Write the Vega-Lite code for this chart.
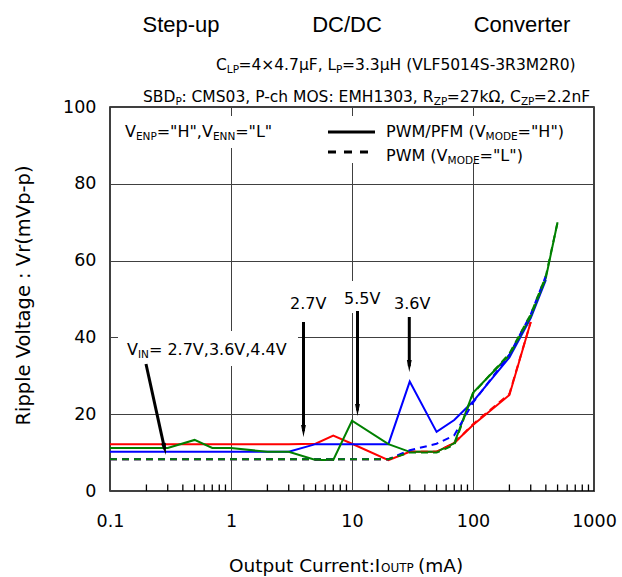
{
"$schema": "https://vega.github.io/schema/vega-lite/v6.json",
"width": 484, "height": 384,
"autosize": {"type": "none"},
"padding": {"left": 110, "top": 107, "right": 28, "bottom": 86},
"background": "white",
"config": {"view": {"stroke": "black", "strokeWidth": 1.5}, "font": "DejaVu Sans"},
"datasets": {
"lines": [
{"x":0.1,"y":12.2,"vin":"2.7V","mode":"PWM/PFM"},{"x":0.2,"y":12.2,"vin":"2.7V","mode":"PWM/PFM"},{"x":0.3,"y":12.2,"vin":"2.7V","mode":"PWM/PFM"},{"x":0.5,"y":12.2,"vin":"2.7V","mode":"PWM/PFM"},{"x":0.7,"y":12.2,"vin":"2.7V","mode":"PWM/PFM"},{"x":1,"y":12.2,"vin":"2.7V","mode":"PWM/PFM"},{"x":2,"y":12.2,"vin":"2.7V","mode":"PWM/PFM"},{"x":3,"y":12.2,"vin":"2.7V","mode":"PWM/PFM"},{"x":5,"y":12.3,"vin":"2.7V","mode":"PWM/PFM"},{"x":7,"y":14.4,"vin":"2.7V","mode":"PWM/PFM"},{"x":10,"y":12.3,"vin":"2.7V","mode":"PWM/PFM"},{"x":20,"y":8.0,"vin":"2.7V","mode":"PWM/PFM"},{"x":30,"y":10.2,"vin":"2.7V","mode":"PWM/PFM"},{"x":50,"y":10.2,"vin":"2.7V","mode":"PWM/PFM"},{"x":70,"y":12.5,"vin":"2.7V","mode":"PWM/PFM"},{"x":100,"y":17.2,"vin":"2.7V","mode":"PWM/PFM"},{"x":200,"y":25.0,"vin":"2.7V","mode":"PWM/PFM"},{"x":300,"y":44.0,"vin":"2.7V","mode":"PWM/PFM"},
{"x":0.1,"y":10.2,"vin":"3.6V","mode":"PWM/PFM"},{"x":0.2,"y":10.2,"vin":"3.6V","mode":"PWM/PFM"},{"x":0.3,"y":10.2,"vin":"3.6V","mode":"PWM/PFM"},{"x":0.5,"y":10.2,"vin":"3.6V","mode":"PWM/PFM"},{"x":0.7,"y":10.2,"vin":"3.6V","mode":"PWM/PFM"},{"x":1,"y":10.2,"vin":"3.6V","mode":"PWM/PFM"},{"x":2,"y":10.2,"vin":"3.6V","mode":"PWM/PFM"},{"x":3,"y":10.2,"vin":"3.6V","mode":"PWM/PFM"},{"x":5,"y":12.2,"vin":"3.6V","mode":"PWM/PFM"},{"x":7,"y":12.2,"vin":"3.6V","mode":"PWM/PFM"},{"x":10,"y":12.2,"vin":"3.6V","mode":"PWM/PFM"},{"x":20,"y":12.2,"vin":"3.6V","mode":"PWM/PFM"},{"x":30,"y":28.5,"vin":"3.6V","mode":"PWM/PFM"},{"x":50,"y":15.4,"vin":"3.6V","mode":"PWM/PFM"},{"x":70,"y":18.5,"vin":"3.6V","mode":"PWM/PFM"},{"x":100,"y":23.3,"vin":"3.6V","mode":"PWM/PFM"},{"x":200,"y":34.8,"vin":"3.6V","mode":"PWM/PFM"},{"x":300,"y":45.0,"vin":"3.6V","mode":"PWM/PFM"},{"x":400,"y":55.0,"vin":"3.6V","mode":"PWM/PFM"},
{"x":0.1,"y":11.2,"vin":"5.5V","mode":"PWM/PFM"},{"x":0.2,"y":11.2,"vin":"5.5V","mode":"PWM/PFM"},{"x":0.3,"y":11.2,"vin":"5.5V","mode":"PWM/PFM"},{"x":0.5,"y":13.3,"vin":"5.5V","mode":"PWM/PFM"},{"x":0.7,"y":11.2,"vin":"5.5V","mode":"PWM/PFM"},{"x":1,"y":11.2,"vin":"5.5V","mode":"PWM/PFM"},{"x":2,"y":10.2,"vin":"5.5V","mode":"PWM/PFM"},{"x":3,"y":10.2,"vin":"5.5V","mode":"PWM/PFM"},{"x":5,"y":8.1,"vin":"5.5V","mode":"PWM/PFM"},{"x":7,"y":8.1,"vin":"5.5V","mode":"PWM/PFM"},{"x":10,"y":18.3,"vin":"5.5V","mode":"PWM/PFM"},{"x":20,"y":12.2,"vin":"5.5V","mode":"PWM/PFM"},{"x":30,"y":10.2,"vin":"5.5V","mode":"PWM/PFM"},{"x":50,"y":10.2,"vin":"5.5V","mode":"PWM/PFM"},{"x":70,"y":12.4,"vin":"5.5V","mode":"PWM/PFM"},{"x":100,"y":25.6,"vin":"5.5V","mode":"PWM/PFM"},{"x":200,"y":35.4,"vin":"5.5V","mode":"PWM/PFM"},{"x":300,"y":45.5,"vin":"5.5V","mode":"PWM/PFM"},{"x":400,"y":55.5,"vin":"5.5V","mode":"PWM/PFM"},{"x":500,"y":70.0,"vin":"5.5V","mode":"PWM/PFM"},
{"x":0.1,"y":8.3,"vin":"2.7V","mode":"PWM"},{"x":0.2,"y":8.3,"vin":"2.7V","mode":"PWM"},{"x":0.3,"y":8.3,"vin":"2.7V","mode":"PWM"},{"x":0.5,"y":8.3,"vin":"2.7V","mode":"PWM"},{"x":0.7,"y":8.3,"vin":"2.7V","mode":"PWM"},{"x":1,"y":8.3,"vin":"2.7V","mode":"PWM"},{"x":2,"y":8.3,"vin":"2.7V","mode":"PWM"},{"x":3,"y":8.3,"vin":"2.7V","mode":"PWM"},{"x":5,"y":8.3,"vin":"2.7V","mode":"PWM"},{"x":7,"y":8.3,"vin":"2.7V","mode":"PWM"},{"x":10,"y":8.3,"vin":"2.7V","mode":"PWM"},{"x":20,"y":8.3,"vin":"2.7V","mode":"PWM"},{"x":30,"y":10.2,"vin":"2.7V","mode":"PWM"},{"x":50,"y":10.2,"vin":"2.7V","mode":"PWM"},{"x":70,"y":12.5,"vin":"2.7V","mode":"PWM"},{"x":100,"y":17.4,"vin":"2.7V","mode":"PWM"},{"x":200,"y":25.3,"vin":"2.7V","mode":"PWM"},{"x":300,"y":44.0,"vin":"2.7V","mode":"PWM"},
{"x":0.1,"y":8.3,"vin":"3.6V","mode":"PWM"},{"x":0.2,"y":8.3,"vin":"3.6V","mode":"PWM"},{"x":0.3,"y":8.3,"vin":"3.6V","mode":"PWM"},{"x":0.5,"y":8.3,"vin":"3.6V","mode":"PWM"},{"x":0.7,"y":8.3,"vin":"3.6V","mode":"PWM"},{"x":1,"y":8.3,"vin":"3.6V","mode":"PWM"},{"x":2,"y":8.3,"vin":"3.6V","mode":"PWM"},{"x":3,"y":8.3,"vin":"3.6V","mode":"PWM"},{"x":5,"y":8.3,"vin":"3.6V","mode":"PWM"},{"x":7,"y":8.3,"vin":"3.6V","mode":"PWM"},{"x":10,"y":8.3,"vin":"3.6V","mode":"PWM"},{"x":20,"y":8.3,"vin":"3.6V","mode":"PWM"},{"x":30,"y":10.6,"vin":"3.6V","mode":"PWM"},{"x":50,"y":12.3,"vin":"3.6V","mode":"PWM"},{"x":70,"y":14.5,"vin":"3.6V","mode":"PWM"},{"x":100,"y":23.0,"vin":"3.6V","mode":"PWM"},{"x":200,"y":35.5,"vin":"3.6V","mode":"PWM"},{"x":300,"y":46.0,"vin":"3.6V","mode":"PWM"},{"x":400,"y":56.0,"vin":"3.6V","mode":"PWM"},
{"x":0.1,"y":8.3,"vin":"5.5V","mode":"PWM"},{"x":0.2,"y":8.3,"vin":"5.5V","mode":"PWM"},{"x":0.3,"y":8.3,"vin":"5.5V","mode":"PWM"},{"x":0.5,"y":8.3,"vin":"5.5V","mode":"PWM"},{"x":0.7,"y":8.3,"vin":"5.5V","mode":"PWM"},{"x":1,"y":8.3,"vin":"5.5V","mode":"PWM"},{"x":2,"y":8.3,"vin":"5.5V","mode":"PWM"},{"x":3,"y":8.3,"vin":"5.5V","mode":"PWM"},{"x":5,"y":8.3,"vin":"5.5V","mode":"PWM"},{"x":7,"y":8.3,"vin":"5.5V","mode":"PWM"},{"x":10,"y":8.3,"vin":"5.5V","mode":"PWM"},{"x":20,"y":8.3,"vin":"5.5V","mode":"PWM"},{"x":30,"y":10.0,"vin":"5.5V","mode":"PWM"},{"x":50,"y":10.0,"vin":"5.5V","mode":"PWM"},{"x":70,"y":12.0,"vin":"5.5V","mode":"PWM"},{"x":100,"y":25.4,"vin":"5.5V","mode":"PWM"},{"x":200,"y":35.8,"vin":"5.5V","mode":"PWM"},{"x":300,"y":46.0,"vin":"5.5V","mode":"PWM"},{"x":400,"y":56.0,"vin":"5.5V","mode":"PWM"},{"x":500,"y":70.0,"vin":"5.5V","mode":"PWM"}
],
"minor": [
{"x":0.2,"y":0,"y2":1.7},{"x":0.3,"y":0,"y2":1.7},{"x":0.4,"y":0,"y2":1.7},{"x":0.5,"y":0,"y2":1.7},{"x":0.6,"y":0,"y2":1.7},{"x":0.7,"y":0,"y2":1.7},{"x":0.8,"y":0,"y2":1.7},{"x":0.9,"y":0,"y2":1.7},
{"x":2,"y":0,"y2":1.7},{"x":3,"y":0,"y2":1.7},{"x":4,"y":0,"y2":1.7},{"x":5,"y":0,"y2":1.7},{"x":6,"y":0,"y2":1.7},{"x":7,"y":0,"y2":1.7},{"x":8,"y":0,"y2":1.7},{"x":9,"y":0,"y2":1.7},
{"x":20,"y":0,"y2":1.7},{"x":30,"y":0,"y2":1.7},{"x":40,"y":0,"y2":1.7},{"x":50,"y":0,"y2":1.7},{"x":60,"y":0,"y2":1.7},{"x":70,"y":0,"y2":1.7},{"x":80,"y":0,"y2":1.7},{"x":90,"y":0,"y2":1.7},
{"x":200,"y":0,"y2":1.7},{"x":300,"y":0,"y2":1.7},{"x":400,"y":0,"y2":1.7},{"x":500,"y":0,"y2":1.7},{"x":600,"y":0,"y2":1.7},{"x":700,"y":0,"y2":1.7},{"x":800,"y":0,"y2":1.7},{"x":900,"y":0,"y2":1.7}
],
"boxes": [
{"x":0.1209,"x2":2.541,"y":97.66,"y2":89.32},
{"x":5.438,"x2":795.9,"y":97.66,"y2":85.42},
{"x":0.1164,"x2":3.578,"y":41.67,"y2":32.55},
{"x":7.959,"x2":18.39,"y":54.69,"y2":46.35}
],
"samples": [
{"x":6.333,"x2":15.49,"y":93.49,"k":"solid"},
{"x":6.333,"x2":15.49,"y":88.28,"k":"dashed"}
],
"arrows": [
{"x":3.972,"y":44.01,"x2":3.972,"y2":15.6},
{"x":11.10,"y":46.88,"x2":11.10,"y2":21.0},
{"x":29.75,"y":45.31,"x2":29.75,"y2":32.5},
{"x":0.1984,"y":33.07,"x2":0.2831,"y2":10.91}
],
"heads": [
{"x":3.972,"y":15.63,"k":"down"},
{"x":11.10,"y":21.09,"k":"down"},
{"x":29.75,"y":32.55,"k":"down"},
{"x":0.2831,"y":10.91,"k":"slant"}
],
"texts": [
{"x":0.3862,"y":119.53,"t":"Step-up","g":"title"},
{"x":9.094,"y":119.53,"t":"DC/DC","g":"title"},
{"x":254.1,"y":119.53,"t":"Converter","g":"title"},
{"x":0.7516,"y":109.64,"t":"C","g":"info"},
{"x":1.151,"y":109.64,"t":"=4×4.7μF, L","g":"info"},
{"x":8.282,"y":109.64,"t":"=3.3μH (VLF5014S-3R3M2R0)","g":"info"},
{"x":0.1874,"y":101.3,"t":"SBD","g":"info"},
{"x":0.3891,"y":101.3,"t":": CMS03, P-ch MOS: EMH1303, R","g":"info"},
{"x":60.62,"y":101.3,"t":"=27kΩ, C","g":"info"},
{"x":318.1,"y":101.3,"t":"=2.2nF","g":"info"},
{"x":0.9232,"y":108.85,"t":"LP","g":"sub"},
{"x":7.390,"y":108.85,"t":"P","g":"sub"},
{"x":0.3471,"y":100.52,"t":"P","g":"sub"},
{"x":47.43,"y":100.52,"t":"ZP","g":"sub"},
{"x":248.9,"y":100.52,"t":"ZP","g":"sub"},
{"x":0.1637,"y":91.41,"t":"ENP","g":"sub"},
{"x":0.7086,"y":91.41,"t":"ENN","g":"sub"},
{"x":127.1,"y":91.41,"t":"MODE","g":"sub"},
{"x":61.66,"y":85.16,"t":"MODE","g":"sub"},
{"x":0.1701,"y":34.64,"t":"IN","g":"sub"},
{"x":0.1330,"y":92.19,"t":"V","g":"lab"},
{"x":0.2432,"y":92.19,"t":"=\"H\",V","g":"lab"},
{"x":1.083,"y":92.19,"t":"=\"L\"","g":"lab"},
{"x":19.10,"y":92.19,"t":"PWM/PFM (V","g":"lab"},
{"x":233.6,"y":92.19,"t":"=\"H\")","g":"lab"},
{"x":19.10,"y":85.94,"t":"PWM (V","g":"lab"},
{"x":113.4,"y":85.94,"t":"=\"L\")","g":"lab"},
{"x":0.1382,"y":35.42,"t":"V","g":"lab"},
{"x":0.2097,"y":35.42,"t":"= 2.7V,3.6V,4.4V","g":"lab"},
{"x":3.073,"y":47.40,"t":"2.7V","g":"lab"},
{"x":8.590,"y":48.70,"t":"5.5V","g":"lab"},
{"x":22.24,"y":47.40,"t":"3.6V","g":"lab"},
{"x":0.9627,"y":-21.09,"t":"Output Current:I","g":"xt"},
{"x":35.12,"y":-21.09,"t":"(mA)","g":"xt"},
{"x":17.37,"y":-21.09,"t":"OUTP","g":"xts"}
]
},
"encoding": {
"x": {"field": "x", "type": "quantitative",
 "scale": {"type": "log", "domain": [0.1, 1000], "nice": false},
 "axis": {"title": null, "values": [0.1,1,10,100,1000],
  "format": "~g",
  "labelOverlap": false, "labelFlush": false, "labelFont": "DejaVu Sans", "labelFontSize": 17.5, "labelColor": "black", "labelPadding": 21,
  "domain": false, "ticks": false,
  "grid": true, "gridColor": "#404040", "gridWidth": 1}},
"y": {"field": "y", "type": "quantitative",
 "scale": {"domain": [0, 100], "nice": false, "zero": false},
 "axis": {"title": "Ripple Voltage : Vr(mVp-p)", "values": [0,20,40,60,80,100],
  "labelFont": "DejaVu Sans", "labelFontSize": 17.5, "labelColor": "black", "labelPadding": 14,
  "ticks": false, "domain": false, "grid": true, "gridColor": "#404040", "gridWidth": 1,
  "titleFont": "DejaVu Sans", "titleFontSize": 19.5, "titleFontWeight": "normal", "titleColor": "black",
  "titleX": -87, "titleY": 188, "titleAngle": -90, "titleAlign": "center", "titleBaseline": "middle"}}
},
"layer": [
{"data": {"name": "boxes"}, "mark": {"type": "rect", "fill": "white"},
 "encoding": {"x2": {"field": "x2"}, "y2": {"field": "y2"}}},
{"data": {"name": "minor"}, "mark": {"type": "rule", "color": "#000000", "strokeWidth": 1.3, "opacity": 1},
 "encoding": {"y2": {"field": "y2"}}},
{"data": {"name": "lines"}, "transform": [{"filter": "datum.mode == 'PWM/PFM'"}],
 "mark": {"type": "line", "strokeWidth": 2},
 "encoding": {"color": {"field": "vin", "type": "nominal", "scale": {"domain": ["2.7V","3.6V","5.5V"], "range": ["#ff0000","#0000ff","#008000"]}, "legend": null}}},
{"data": {"name": "lines"}, "transform": [{"filter": "datum.mode == 'PWM'"}],
 "mark": {"type": "line", "strokeWidth": 2, "strokeDash": [7, 5]},
 "encoding": {"color": {"field": "vin", "type": "nominal", "scale": {"domain": ["2.7V","3.6V","5.5V"], "range": ["#ff0000","#0000ff","#008000"]}, "legend": null}}},
{"data": {"name": "samples"}, "transform": [{"filter": "datum.k == 'solid'"}],
 "mark": {"type": "rule", "color": "black", "strokeWidth": 3},
 "encoding": {"x2": {"field": "x2"}}},
{"data": {"name": "samples"}, "transform": [{"filter": "datum.k == 'dashed'"}],
 "mark": {"type": "rule", "color": "black", "strokeWidth": 3, "strokeDash": [8, 8]},
 "encoding": {"x2": {"field": "x2"}}},
{"data": {"name": "arrows"}, "mark": {"type": "rule", "color": "black", "strokeWidth": 3},
 "encoding": {"x2": {"field": "x2"}, "y2": {"field": "y2"}}},
{"data": {"name": "heads"}, "transform": [{"filter": "datum.k == 'down'"}],
 "mark": {"type": "point", "shape": "M-0.4,-1L0.4,-1L0,1Z", "filled": true, "color": "black", "opacity": 1, "size": 144, "angle": 0}},
{"data": {"name": "heads"}, "transform": [{"filter": "datum.k == 'slant'"}],
 "mark": {"type": "point", "shape": "M-0.4,-1L0.4,-1L0,1Z", "filled": true, "color": "black", "opacity": 1, "size": 144, "angle": -12.4}},
{"data": {"name": "texts"}, "transform": [{"filter": "datum.g == 'title'"}],
 "mark": {"type": "text", "align": "center", "baseline": "alphabetic", "font": "Liberation Sans", "fontSize": 22, "color": "black"},
 "encoding": {"text": {"field": "t"}}},
{"data": {"name": "texts"}, "transform": [{"filter": "datum.g == 'info'"}],
 "mark": {"type": "text", "align": "left", "baseline": "alphabetic", "font": "DejaVu Sans", "fontSize": 15.5, "color": "black"},
 "encoding": {"text": {"field": "t"}}},
{"data": {"name": "texts"}, "transform": [{"filter": "datum.g == 'sub'"}],
 "mark": {"type": "text", "align": "left", "baseline": "alphabetic", "font": "DejaVu Sans", "fontSize": 10.5, "color": "black"},
 "encoding": {"text": {"field": "t"}}},
{"data": {"name": "texts"}, "transform": [{"filter": "datum.g == 'lab'"}],
 "mark": {"type": "text", "align": "left", "baseline": "alphabetic", "font": "DejaVu Sans", "fontSize": 16, "color": "black"},
 "encoding": {"text": {"field": "t"}}},
{"data": {"name": "texts"}, "transform": [{"filter": "datum.g == 'xt'"}],
 "mark": {"type": "text", "align": "left", "baseline": "alphabetic", "font": "DejaVu Sans", "fontSize": 18.5, "color": "black"},
 "encoding": {"text": {"field": "t"}}},
{"data": {"name": "texts"}, "transform": [{"filter": "datum.g == 'xts'"}],
 "mark": {"type": "text", "align": "left", "baseline": "alphabetic", "font": "DejaVu Sans", "fontSize": 12, "color": "black"},
 "encoding": {"text": {"field": "t"}}}
]
}
